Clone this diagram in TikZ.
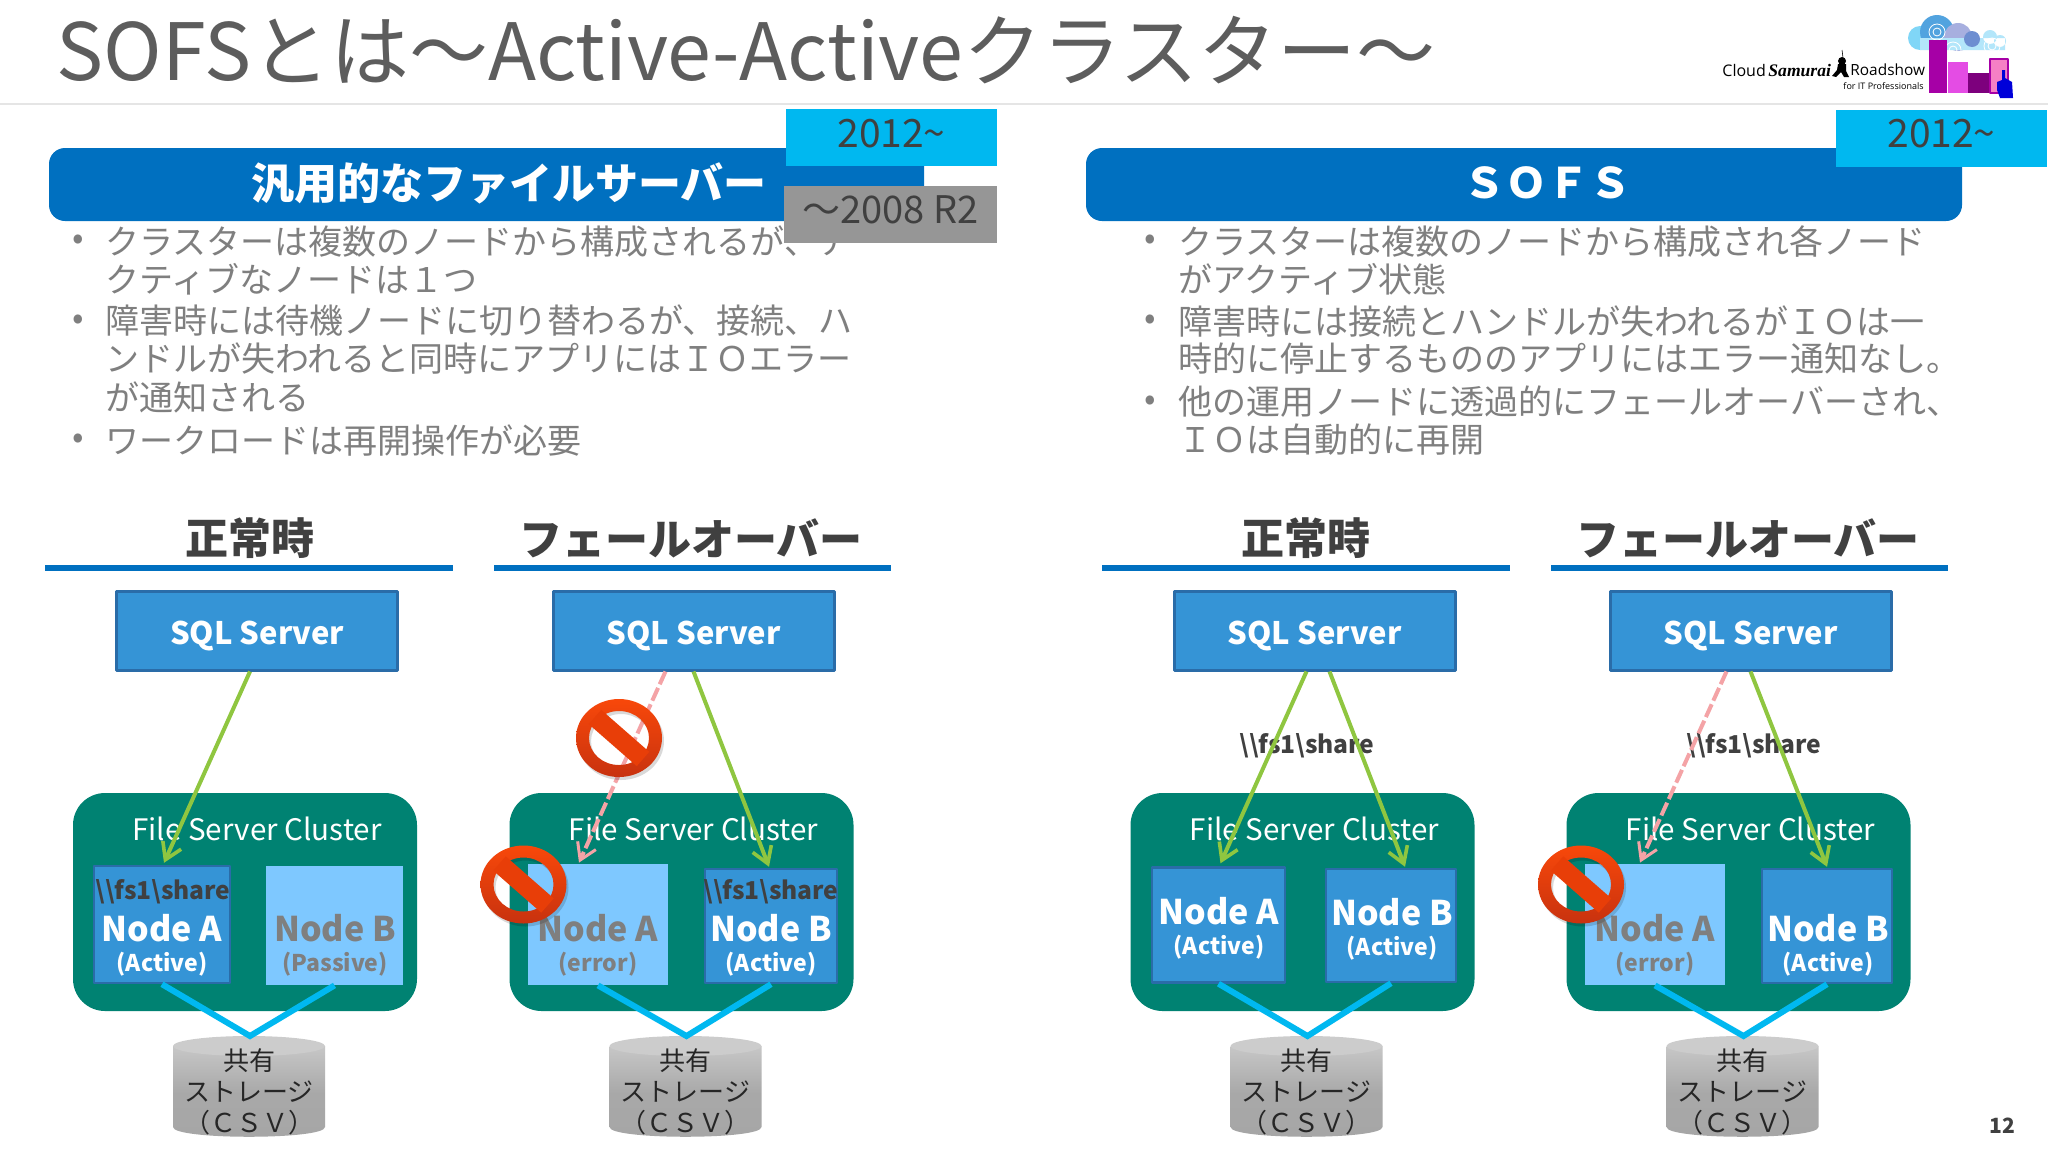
\documentclass[tikz,border=0pt]{standalone}
\usepackage{fontspec}
\setmainfont{Noto Sans CJK JP}
\newfontfamily\logofont{Open Sans}
\newfontfamily\samuraifont{Liberation Serif}
\usetikzlibrary{arrows.meta,calc}
\definecolor{barblue}{HTML}{0070C0}
\definecolor{skyblue}{HTML}{00B8F0}
\definecolor{boxblue}{HTML}{3594D6}
\definecolor{boxedge}{HTML}{2A6CA8}
\definecolor{paleblue}{HTML}{7EC8FF}
\definecolor{teal}{HTML}{008272}
\definecolor{okgreen}{HTML}{8FC640}
\definecolor{ngpink}{HTML}{F4A3A6}
\definecolor{bodygray}{HTML}{7F7F7F}
\definecolor{darktext}{HTML}{404040}
\definecolor{signtop}{HTML}{F8480A}
\definecolor{signmid}{HTML}{E83E08}
\definecolor{signlow}{HTML}{C8320F}
\tikzset{
boxsize/.style 2 args={minimum width=#1*0.5pt,minimum height=#2*0.5pt},
sqlbox/.style={draw=boxedge,fill=boxblue,line width=1.5pt,inner sep=0pt,boxsize={281}{79},text=white,font=\fontsize{15.5}{19}\selectfont\bfseries},
clusterbox/.style={fill=teal,rounded corners=16pt,inner sep=0pt,boxsize={344}{218}},
nodeon/.style={draw=boxedge,fill=boxblue,line width=1.2pt,inner sep=0pt},
nodeoff/.style={fill=paleblue,inner sep=0pt},
bigname/.style={font=\fontsize{17}{19}\selectfont\bfseries,inner sep=0pt},
smallname/.style={font=\fontsize{11.5}{14}\selectfont\bfseries,inner sep=0pt},
sharetext/.style={font=\fontsize{12.3}{15}\selectfont\bfseries,text=darktext,inner sep=0pt},
bodyline/.style={anchor=west,inner sep=0pt,text=bodygray,font=\fontsize{17}{20}\selectfont},
headtext/.style={inner sep=0pt,text=darktext,font=\fontsize{21.5}{25}\selectfont\bfseries},
yearbox/.style={inner sep=0pt,text=darktext,font=\fontsize{19.5}{22}\selectfont},
okarrow/.style={draw=okgreen,line width=2pt,-{Straight Barb[length=8pt,width=10pt,line width=1.8pt]}},
ngarrow/.style={draw=ngpink,line width=2pt,dash pattern=on 7pt off 2pt,-{Straight Barb[length=8pt,width=10pt,line width=1.5pt]}},
csvline/.style={draw=skyblue,line width=3pt,line join=miter},
nosign/.pic={
\fill[black,opacity=0.15,even odd rule] (2,3) ellipse [x radius=43,y radius=39] (2,3) ellipse [x radius=30,y radius=27];
\shade[top color=signtop,bottom color=signlow,even odd rule] (0,0) ellipse [x radius=43,y radius=39] (0,0) ellipse [x radius=30,y radius=27];
\draw[draw=signmid,line width=9.5pt,line cap=butt] (-24,-21) -- (24,21);
}
}
\begin{document}
\begin{tikzpicture}[x=0.5pt,y=-0.5pt,line join=round,>=stealth]
\useasboundingbox (0,0) rectangle (2048,1152);
\fill[white] (0,0) rectangle (2048,1152);
% title
\node[anchor=west,inner sep=0pt,text=darktext!85!white,font=\fontsize{39.5}{46}\selectfont] (title) at (56,50) {SOFSとは～Active-Activeクラスター～};
\draw[black!10,line width=1pt] (0,104) -- (2048,104);
% logo
\node[anchor=west,inner sep=0pt,font=\logofont\fontsize{8}{10}\selectfont] (logoa) at (1722,70) {Cloud};
\node[anchor=west,inner sep=0pt,font=\samuraifont\itshape\bfseries\fontsize{8.8}{11}\selectfont] (logob) at (1768,70) {Samurai};
\node[anchor=west,inner sep=0pt,font=\logofont\fontsize{7.7}{10}\selectfont] (logoc) at (1850,70) {Roadshow};
\node[anchor=east,inner sep=0pt,font=\logofont\fontsize{4.5}{6}\selectfont] (logod) at (1924,86) {for IT Professionals};
\fill[black] (1842,61) circle (4) (1838,64) -- (1846,64) -- (1846,71) -- (1849,77) -- (1844,77) -- (1841,72) -- (1836,77) -- (1832,76) -- (1837,70) -- cycle;
\draw[black,line width=0.3pt] (1843,58) -- (1842,50);
\fill[cyan!50!white] (1920,38) circle (12);
\fill[cyan!70!blue!70!white] (1937,32) circle (17);
\fill[cyan!30!blue!35!white] (1958,37) circle (14);
\fill[cyan!30!white] (1990,37) circle (7) (2000,41) circle (6) (1920,38) rectangle (2005,50);
\fill[cyan!40!blue!60!white] (1972,39) circle (8);
\foreach \x/\y in {1937/32,1953/50,1992/46}
{\draw[white,line width=0.4pt] (\x,\y) circle (4) (\x,\y) circle (8);}
\fill[violet!70!magenta] (1929,40) rectangle (1947,93);
\fill[violet!30!magenta!70!white] (1948,62) rectangle (1968,93);
\fill[violet!85!magenta!85!black] (1968,73) rectangle (1989,93);
\draw[violet!70!magenta,fill=magenta!50!white,line width=0.8pt] (1990,59) rectangle (2008,93);
\fill[blue!85!black] (1997,90) -- (1997,82) -- (2002,80) -- (2002,70) -- (2005,70) -- (2005,78) -- (2012,82) -- (2013,98) -- (2000,98) -- cycle;
% body text
\foreach \n/\x/\y/\t in {
la/105/241.6/{クラスターは複数のノードから構成されるが、ア},
lb/105/279.5/{クティブなノードは１つ},
lc/105/321/{障害時には待機ノードに切り替わるが、接続、ハ},
ld/105/359/{ンドルが失われると同時にアプリにはＩＯエラー},
le/105/397/{が通知される},
lf/105/440/{ワークロードは再開操作が必要},
ra/1178/241.6/{クラスターは複数のノードから構成され各ノード},
rb/1178/279.5/{がアクティブ状態},
rc/1178/321/{障害時には接続とハンドルが失われるがＩＯは一},
rd/1178/359/{時的に停止するもののアプリにはエラー通知なし。},
re/1178/402/{他の運用ノードに透過的にフェールオーバーされ、},
rf/1178/440/{ＩＯは自動的に再開}}
{\node[bodyline] (\n) at (\x,\y) {\t};}
\foreach \n/\x/\y in {ba/72/242,bb/72/322,bc/72/441,bd/1144/242,be/1144/322,bf/1144/403}
{\node[bodyline] (\n) at (\x,\y) {•};}
% header bars
\node[fill=barblue,rounded corners=8pt,inner sep=0pt,boxsize={875}{73}] (barl) at (486.5,184.5) {};
\node[fill=barblue,rounded corners=8pt,inner sep=0pt,boxsize={876}{73}] (barr) at (1524,184.5) {};
\node[inner sep=0pt,text=white,font=\fontsize{21.5}{25}\selectfont\bfseries] (barltext) at (509,183) {汎用的なファイルサーバー};
\node[inner sep=0pt,text=white,font=\fontsize{21}{25}\selectfont\bfseries] (barrtext) at (1547,183) {ＳＯＦＳ};
\node[yearbox,fill=skyblue,boxsize={211}{57}] (yeara) at (891.5,137.5) {\raisebox{-4.75pt}[0pt][0pt]{2012\textasciitilde}};
\node[yearbox,fill=skyblue,boxsize={211}{57}] (yearb) at (1941.5,138.5) {\raisebox{-4.25pt}[0pt][0pt]{2012\textasciitilde}};
\node[yearbox,fill=black!41,boxsize={213}{57},font=\fontsize{19}{22}\selectfont] (yearc) at (890.5,214) {\raisebox{-4.5pt}[0pt][0pt]{～2008 R2}};
% section heads
\foreach \c/\xa/\xb/\xm/\t in {a/45/453/250/正常時,b/494/891/691/フェールオーバー,c/1102/1510/1306/正常時,d/1551/1948/1748/フェールオーバー}
{\node[headtext] (head\c) at (\xm,538) {\t};
\draw[barblue,line width=3pt] (\xa,568) -- (\xb,568);}
% columns
\foreach \c/\dx in {a/0,b/436.5,c/1057.5,d/1493.5}
{\begin{scope}[shift={(\dx,0)}]
\node[sqlbox] (sql\c) at (257,630.5) {\raisebox{-6.75pt}[0pt][0pt]{SQL Server}};
\node[clusterbox] (cluster\c) at (245,902) {};
\node[inner sep=0pt,text=white,font=\fontsize{14.8}{18}\selectfont] (clustertext\c) at (257,829) {File Server Cluster};
\shade[top color=black!22,bottom color=black!35,middle color=black!34] (173,1046) -- (173,1127) .. controls (173,1140) and (325,1140) .. (325,1127) -- (325,1046) -- cycle;
\fill[black!20] (249,1046) ellipse [x radius=76,y radius=10];
\coordinate (csv\c) at (250,1036);
\node[inner sep=0pt,text=black!85,align=center,font=\fontsize{13}{15.4}\selectfont] (csvtext\c) at (249,1092) {共有\\ストレージ\\（ＣＳＶ）};
\end{scope}}
% nodes
\node[nodeon,boxsize={136}{117}] (a1) at (162,924.5) {};
\node[nodeoff,boxsize={137}{119}] (a2) at (334.5,925.5) {};
\node[nodeoff,boxsize={140}{121}] (b1) at (598,924.5) {};
\node[nodeon,boxsize={132}{114}] (b2) at (771,926) {};
\node[nodeon,boxsize={133}{115}] (c1) at (1218.5,925) {};
\node[nodeon,boxsize={130}{113}] (c2) at (1391,925.5) {};
\node[nodeoff,boxsize={140}{121}] (d1) at (1655,924.5) {};
\node[nodeon,boxsize={130}{114}] (d2) at (1827,926) {};
\foreach \n/\x/\y/\t/\u/\col in {
a1/162/928/Node A/(Active)/white,
a2/335/928/Node B/(Passive)/bodygray,
b1/598/928/Node A/(error)/bodygray,
b2/771/928/Node B/(Active)/white,
c1/1219/911/Node A/(Active)/white,
c2/1392/912/Node B/(Active)/white,
d1/1655/928/Node A/(error)/bodygray,
d2/1828/928/Node B/(Active)/white}
{\node[bigname,text=\col] (\n name) at (\x,\y) {\t};
\node[smallname,text=\col] (\n state) at (\x,\y+36) {\u};}
\foreach \n/\x/\y in {sharea/163/892,shareb/771/892,sharec/1307/746,shared/1754/746}
{\node[sharetext] (\n) at (\x,\y) {\textbackslash\textbackslash fs1\textbackslash share};}
% connectors
\draw[csvline] (a1.south) -- (csva) -- (a2.south);
\draw[csvline] (b1.south) -- (csvb) -- (b2.south);
\draw[csvline] (c1.south) -- (csvc) -- (c2.south);
\draw[csvline] (d1.south) -- (csvd) -- (d2.south);
\draw[okarrow] ([xshift=-3.5pt]sqla.south) -- ([xshift=1pt,yshift=1pt]a1.north);
\draw[ngarrow] ([xshift=-14pt]sqlb.south) -- ([xshift=-9.5pt,yshift=0.5pt]b1.north);
\draw[okarrow] (sqlb.south) -- ([xshift=-1pt,yshift=0.5pt]b2.north);
\draw[okarrow] ([xshift=-4pt]sqlc.south) -- ([xshift=1pt,yshift=1.5pt]c1.north);
\draw[okarrow] ([xshift=7.5pt]sqlc.south) -- ([xshift=7pt,yshift=0.5pt]c2.north);
\draw[ngarrow] ([xshift=-12pt]sqld.south) -- ([xshift=-7.5pt,yshift=0.5pt]d1.north);
\draw[okarrow] (sqld.south) -- ([yshift=0.5pt]d2.north);
% signs
\pic at (619,738) {nosign};
\pic at (523.5,884.5) {nosign};
\pic at (1581,884.5) {nosign};
\node[inner sep=0pt,text=darktext,font=\fontsize{10.5}{12}\selectfont\bfseries] (pageno) at (2002,1126) {12};
\end{tikzpicture}
\end{document}
